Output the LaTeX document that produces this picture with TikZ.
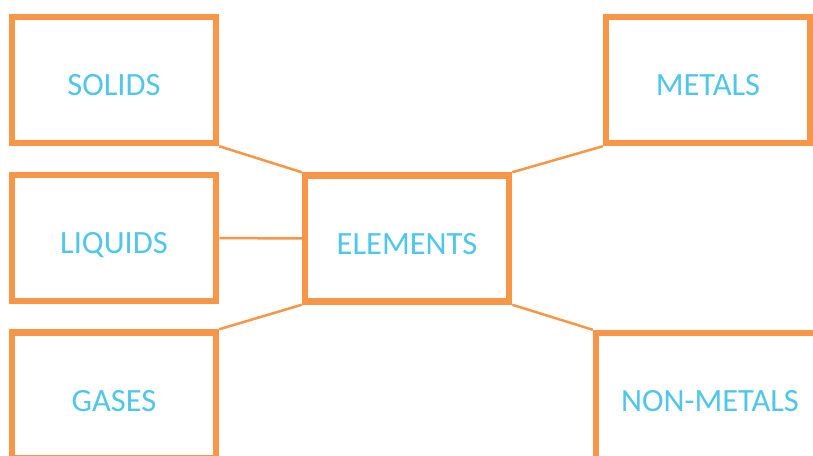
\documentclass[tikz,border=0pt]{standalone}
\usepackage{fontspec}
\setmainfont{Carlito}
\usepackage{tikz}

\definecolor{boxorange}{HTML}{F79646}
\definecolor{textblue}{HTML}{4FC6EA}

\tikzset{
  box/.style={rectangle,draw=boxorange,line width=6.5pt,minimum width=204pt,minimum height=126pt,
    text=textblue,font=\fontsize{32.5}{32}\selectfont,text height=31pt,text depth=0pt},
  link/.style={draw=boxorange,line width=2.5pt}
}

\begin{document}
\begin{tikzpicture}[x=1pt,y=-1pt]
        \useasboundingbox (0,0) rectangle (813,455);
        \node[box] (S) at (114,80) {SOLIDS};
        \node[box] (L) at (114,238) {LIQUIDS};
        \node[box] (G) at (114,395.5) {GASES};
        \node[box] (E) at (407,238.5) {ELEMENTS};
        \node[box] (M) at (708,80) {METALS};
        \node[box,minimum width=228pt] (N) at (710,396) {NON-METALS};
        \draw[link] (S.south east) -- (E.north west);
        \draw[link] (L) -- (E);
        \draw[link] (G.north east) -- (E.south west);
        \draw[link] (M.south west) -- (E.north east);
        \draw[link] (N.north west) -- (E.south east);
    \end{tikzpicture}
\end{document}
